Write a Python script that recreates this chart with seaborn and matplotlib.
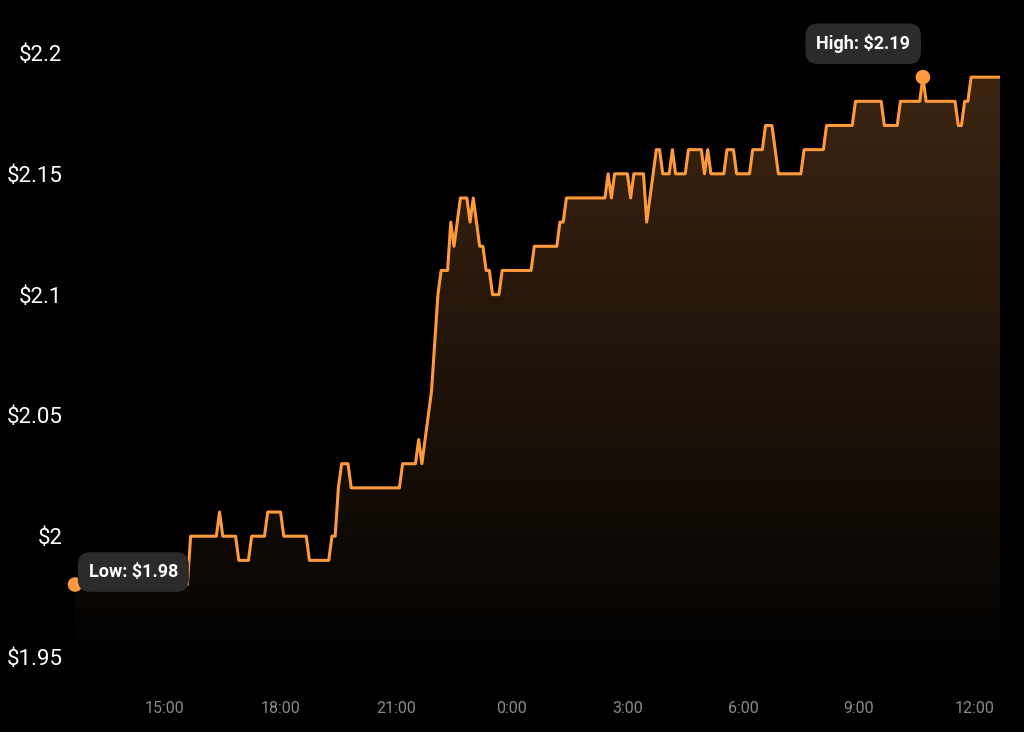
"""
24h price chart: dark theme, orange step-ish line with gradient fill,
low / high callouts.
"""

import numpy as np
import pandas as pd
import matplotlib
matplotlib.use("Agg")
import matplotlib.pyplot as plt
import matplotlib.dates as mdates
import matplotlib.ticker as mticker
from matplotlib.colors import LinearSegmentedColormap
import seaborn as sns

# ── data (5-minute samples, run-length encoded) ──────────────────────────────
START = "2024-03-14 12:40"
price_levels = [
    1.98, 2.00, 2.01, 2.00, 1.99, 2.00, 2.01, 2.00, 1.99, 2.00, 2.02, 2.03,
    2.02, 2.03, 2.04, 2.03, 2.04, 2.05, 2.06, 2.08, 2.10, 2.11, 2.13, 2.12,
    2.13, 2.14, 2.13, 2.14, 2.13, 2.12, 2.11, 2.10, 2.11, 2.12, 2.13, 2.14,
    2.15, 2.14, 2.15, 2.14, 2.15, 2.13, 2.14, 2.15, 2.16, 2.15, 2.16, 2.15,
    2.16, 2.15, 2.16, 2.15, 2.16, 2.15, 2.16, 2.17, 2.16, 2.15, 2.16, 2.17,
    2.18, 2.17, 2.18, 2.19, 2.18, 2.17, 2.18, 2.19,
]
level_runs = [
    36, 9, 1, 5, 4, 5, 5, 8, 7, 2, 1, 3,
    16, 5, 1, 1, 1, 1, 1, 1, 1, 3, 1, 1,
    1, 3, 1, 1, 1, 2, 2, 3, 10, 8, 2, 13,
    1, 1, 5, 1, 4, 1, 1, 1, 2, 3, 1, 4,
    5, 1, 1, 5, 3, 5, 4, 3, 1, 8, 7, 9,
    9, 5, 7, 1, 10, 2, 2, 10,
]
y_ticks = [1.95, 2.00, 2.05, 2.10, 2.15, 2.20]
hour_ticks = [0, 3, 6, 9, 12, 15, 18, 21]

prices = np.repeat(price_levels, level_runs)
times = pd.date_range(START, periods=len(prices), freq="5min")
df = pd.DataFrame({"time": times, "price": prices})

LINE = "#ff9a3c"
BG = "#000000"

# ── style ────────────────────────────────────────────────────────────────────
sns.set_theme(style="dark", rc={
    "figure.facecolor": BG, "axes.facecolor": BG,
    "axes.edgecolor": BG, "axes.grid": False,
})
plt.rcParams["font.family"] = ["Roboto", "DejaVu Sans"]

fig = plt.figure(figsize=(10.24, 7.32), dpi=100)
ax = fig.add_axes([75 / 1024, 75 / 732, 925 / 1024, 604 / 732])

# gradient fill under the line
base = 1.957
fill = ax.fill_between(df["time"], df["price"], base, color="none", lw=0)
cmap = LinearSegmentedColormap.from_list(
    "fade", [(0.02, 0.015, 0.01, 1.0), (0.24, 0.145, 0.07, 1.0)])
x0, x1 = mdates.date2num(times[0]), mdates.date2num(times[-1])
grad = np.linspace(0, 1, 256).reshape(-1, 1)
img = ax.imshow(grad, cmap=cmap, aspect="auto", origin="lower",
                extent=[x0, x1, base, 2.19], zorder=1)
img.set_clip_path(fill.get_paths()[0], transform=ax.transData)

sns.lineplot(data=df, x="time", y="price", color=LINE, lw=2.2, ax=ax, zorder=3)

# low / high markers with callouts
lo = df.loc[df["price"].idxmin()]
hi = df.loc[df["price"].idxmax()]
for row, label, offset in [(lo, "Low", (42, 9)), (hi, "High", (-43, 24))]:
    ax.scatter([row["time"]], [row["price"]], s=110, color=LINE, zorder=5,
               edgecolor="none", clip_on=False)
    ax.annotate(f"{label}: ${row['price']:.2f}",
                xy=(row["time"], row["price"]), xytext=offset,
                textcoords="offset points", ha="center", va="center",
                color="white", fontsize=13, fontweight="bold", zorder=6,
                bbox=dict(boxstyle="round,pad=0.6,rounding_size=0.7",
                          fc="#2b2b2b", ec="none"))

# axes
ax.set_xlim(x0, x1)
ax.set_ylim(1.95, 2.20)
ax.set_yticks(y_ticks)
ax.yaxis.set_major_formatter(mticker.FuncFormatter(lambda v, _: f"${v:g}"))
ax.xaxis.set_major_locator(mdates.HourLocator(byhour=hour_ticks))
ax.xaxis.set_major_formatter(mticker.FuncFormatter(
    lambda v, _: f"{mdates.num2date(v).hour}:{mdates.num2date(v).minute:02d}"))
ax.tick_params(axis="y", colors="white", labelsize=16, length=0, pad=9)
ax.tick_params(axis="x", colors="#8a8a8a", labelsize=11.5, length=0, pad=32)
ax.set_xlabel("")
ax.set_ylabel("")
for s in ax.spines.values():
    s.set_visible(False)

fig.savefig("out.png", dpi=100, facecolor=BG)
